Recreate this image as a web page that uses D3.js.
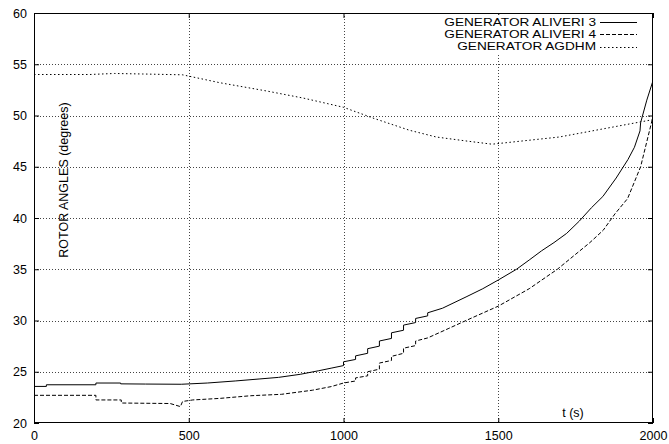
<!DOCTYPE html>
<html><head><meta charset="utf-8">
<script src="https://cdn.jsdelivr.net/npm/d3@7"></script>
<style>
body{margin:0;background:#fff}
svg{display:block}
text{font-family:"Liberation Sans",Arial,Helvetica,sans-serif;fill:#000}
</style>
</head><body>
<svg id="c" width="669" height="444"></svg>
<script>
// ---- data ----
const seriesNames = ["GENERATOR ALIVERI 3", "GENERATOR ALIVERI 4", "GENERATOR AGDHM"];
const xTicks = [0, 500, 1000, 1500, 2000];
const yTicks = [20, 25, 30, 35, 40, 45, 50, 55, 60];
const xLabel = "t (s)";
const yLabel = "ROTOR ANGLES (degrees)";

// [t (s), angle (deg)]
const aliveri3 = [
  [0,23.57],[40,23.57],[40,23.73],[200,23.73],[200,23.9],[280,23.9],[280,23.82],[360,23.8],
  [476,23.78],[560,23.9],[650,24.1],[730,24.3],[790,24.45],[860,24.75],[920,25.1],[960,25.35],
  [1000,25.6],[1000,25.97],[1039,26.2],[1039,26.55],[1078,26.8],[1078,27.25],[1116,27.5],[1116,28.0],
  [1155,28.25],[1155,28.8],[1194,29.05],[1194,29.55],[1233,29.8],[1233,30.2],[1272,30.45],[1272,30.75],
  [1320,31.2],[1396,32.3],[1450,33.1],[1500,33.95],[1559,35.0],[1600,35.9],[1640,36.8],[1680,37.6],
  [1721,38.5],[1762,39.7],[1801,41.0],[1838,42.1],[1881,43.9],[1919,45.7],[1940,46.9],[1958,48.5],
  [1960,49.3],[1980,51.5],[2000,53.4]
];
const aliveri4 = [
  [0,22.7],[200,22.7],[200,22.25],[282,22.25],[282,21.95],[440,21.9],[473,21.6],[480,22.1],
  [513,22.25],[600,22.4],[700,22.66],[800,22.8],[900,23.2],[960,23.55],[1000,23.9],[1039,24.1],
  [1039,24.4],[1078,24.6],[1078,25.0],[1116,25.25],[1116,25.85],[1155,26.1],[1155,26.5],[1194,26.8],
  [1194,27.3],[1233,27.55],[1233,28.0],[1272,28.3],[1338,29.2],[1396,30.0],[1500,31.4],[1600,33.1],
  [1691,35.0],[1796,37.6],[1839,38.8],[1877,40.4],[1918,41.9],[1960,45.0],[2000,49.9]
];
const agdhm = [
  [0,54.0],[180,54.0],[260,54.1],[350,54.05],[480,53.97],[600,53.2],[750,52.4],[870,51.7],
  [1000,50.8],[1100,49.7],[1213,48.56],[1300,47.9],[1400,47.5],[1480,47.2],[1697,47.9],[2000,49.6]
];
const seriesData = [aliveri3, aliveri4, agdhm];
const seriesDash = [null, "4,2", "1.5,2.5"];

// ---- layout ----
const L = 34, R = 653, T = 13, B = 423;
const svg = d3.select("#c");
const x = d3.scaleLinear().domain([0, 2000]).range([L, R]);
const y = d3.scaleLinear().domain([20, 60]).range([B, T]);

// grid
const g = svg.append("g");
g.selectAll("line.gx").data(xTicks.slice(1, -1)).join("line")
  .attr("x1", d => Math.round(x(d)) + 0.5).attr("x2", d => Math.round(x(d)) + 0.5)
  .attr("y1", T).attr("y2", B)
  .attr("stroke", "#444").attr("stroke-width", 1).attr("stroke-dasharray", "1,2");
g.selectAll("line.gy").data(yTicks.slice(1, -1)).join("line")
  .attr("y1", d => Math.round(y(d)) + 0.5).attr("y2", d => Math.round(y(d)) + 0.5)
  .attr("x1", L).attr("x2", R)
  .attr("stroke", "#444").attr("stroke-width", 1).attr("stroke-dasharray", "1,2");

// axes (inward ticks on all four sides)
const fmt = d3.format("d");
const ax = (gen, tx, ty, labels) => {
  const a = svg.append("g").attr("transform", `translate(${tx},${ty})`).call(gen);
  a.select(".domain").remove();
  a.selectAll("line").attr("stroke", "#000");
  a.selectAll("text").style("font-size", "12.5px").style("font-family", '"Liberation Sans",Arial,sans-serif');
  if (!labels) a.selectAll("text").remove();
  return a;
};
ax(d3.axisLeft(y).tickValues(yTicks).tickFormat(fmt).tickSize(-5).tickPadding(7), L, 0, true);
ax(d3.axisRight(y).tickValues(yTicks).tickSize(-5), R, 0, false);
ax(d3.axisBottom(x).tickValues(xTicks).tickFormat(fmt).tickSize(-5).tickPadding(8), 0, B, true);
ax(d3.axisTop(x).tickValues(xTicks).tickSize(-5), 0, T, false);

// clip
svg.append("clipPath").attr("id", "clip").append("rect")
  .attr("x", L).attr("y", T).attr("width", R - L).attr("height", B - T);

// legend background (hides grid behind key)
const legX = 596, legY0 = 22, legDy = 12.3;
svg.append("rect").attr("x", 438).attr("y", 15).attr("width", 207).attr("height", 38).attr("fill", "#fff");

// series
const line = d3.line().x(d => x(d[0])).y(d => y(d[1]));
svg.append("g").attr("clip-path", "url(#clip)").selectAll("path").data(seriesData).join("path")
  .attr("d", line).attr("fill", "none").attr("stroke", "#000").attr("stroke-width", 1)
  .attr("stroke-dasharray", (d, i) => seriesDash[i]);

// frame
svg.append("rect").attr("x", L + 0.5).attr("y", T + 0.5).attr("width", R - L - 1).attr("height", B - T - 1)
  .attr("fill", "none").attr("stroke", "#000").attr("stroke-width", 1);

// legend
const leg = svg.append("g");
seriesNames.forEach((n, i) => {
  const yy = legY0 + i * legDy;
  leg.append("text").attr("transform", `translate(${legX},${yy}) scale(1.3,1)`).attr("dy", "0.35em")
    .attr("text-anchor", "end").style("font-size", "10.5px").text(n);
  leg.append("line").attr("x1", 600).attr("x2", 637).attr("y1", Math.round(yy) + 0.5).attr("y2", Math.round(yy) + 0.5)
    .attr("stroke", "#000").attr("stroke-width", 1).attr("stroke-dasharray", seriesDash[i]);
});

// axis labels
svg.append("text").attr("transform", `translate(64,180) rotate(-90)`)
  .attr("text-anchor", "middle").attr("dy", "0.35em").style("font-size", "12.5px").text(yLabel);
svg.append("text").attr("x", 573).attr("y", 413).attr("dy", "0.35em")
  .attr("text-anchor", "middle").style("font-size", "12.5px").text(xLabel);
</script>
</body></html>
